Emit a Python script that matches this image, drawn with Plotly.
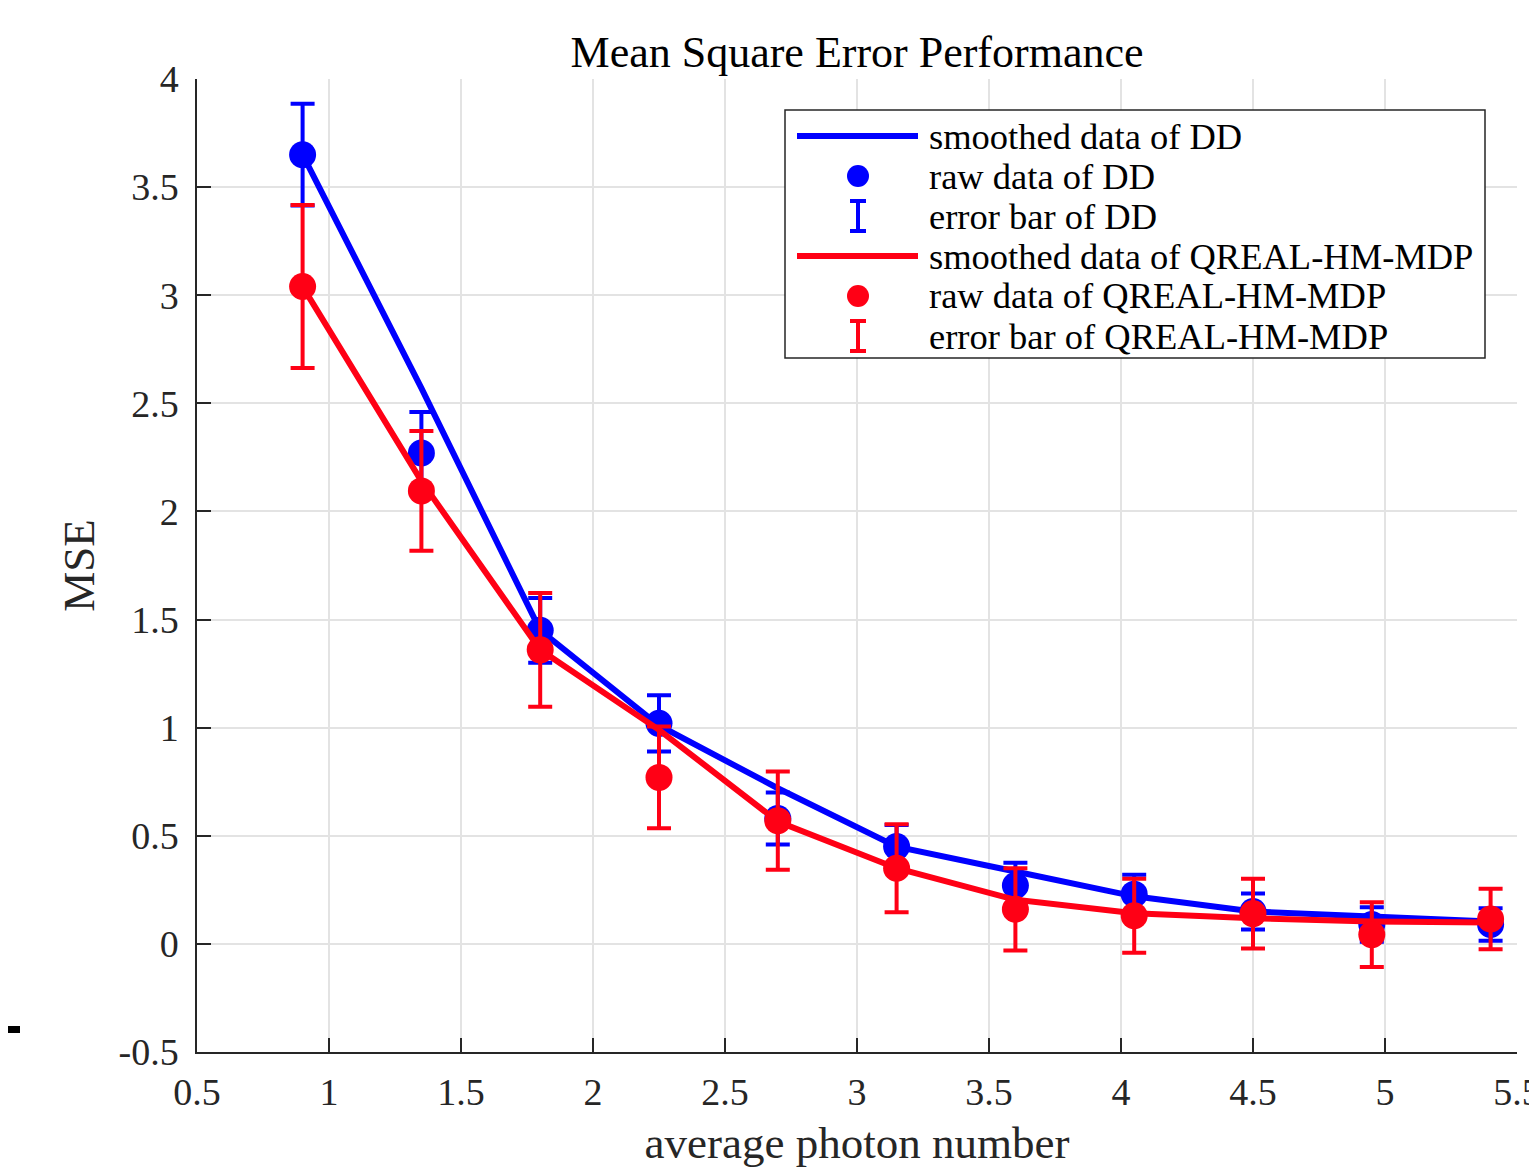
import plotly.graph_objects as go

# average photon number
photon = [0.9, 1.35, 1.8, 2.25, 2.7, 3.15, 3.6, 4.05, 4.5, 4.95, 5.4]

# DD
dd_raw = [3.65, 2.27, 1.45, 1.02, 0.58, 0.45, 0.27, 0.23, 0.15, 0.09, 0.09]
dd_err = [0.235, 0.19, 0.15, 0.13, 0.12, 0.10, 0.105, 0.09, 0.083, 0.08, 0.075]
dd_smooth = [3.65, 2.57, 1.45, 1.01, 0.72, 0.45, 0.335, 0.22, 0.15, 0.123, 0.103]

# QREAL-HM-MDP
qr_raw = [3.04, 2.095, 1.36, 0.77, 0.57, 0.35, 0.16, 0.13, 0.14, 0.043, 0.115]
qr_err = [0.377, 0.277, 0.263, 0.235, 0.227, 0.2035, 0.19, 0.171, 0.161, 0.15, 0.14]
qr_smooth = [3.04, 2.14, 1.36, 0.99, 0.566, 0.35, 0.204, 0.142, 0.119, 0.103, 0.099]

x_ticks = [0.5, 1, 1.5, 2, 2.5, 3, 3.5, 4, 4.5, 5, 5.5]
x_ticktext = ["0.5", "1", "1.5", "2", "2.5", "3", "3.5", "4", "4.5", "5", "5.5"]
y_ticks = [-0.5, 0, 0.5, 1, 1.5, 2, 2.5, 3, 3.5, 4]
y_ticktext = ["-0.5", "0", "0.5", "1", "1.5", "2", "2.5", "3", "3.5", "4"]

legend_labels = ["smoothed data of DD", "raw data of DD", "error bar of DD",
                 "smoothed data of QREAL-HM-MDP", "raw data of QREAL-HM-MDP",
                 "error bar of QREAL-HM-MDP"]

BLUE = "#0000ff"
RED = "#ff0015"
FONT = "Liberation Serif"
AXC = "#262626"

# the page body has an 8px margin, so the figure is drawn 8px smaller
OFF = 8
W, H = 1537 - OFF, 1171 - OFF
L, R, T, B = 197 - OFF, 20, 79 - OFF, 119
PW, PH = W - L - R, H - T - B


def px(xp):
    # window pixel x -> paper x
    return (xp - OFF - L) / PW


def py(yp):
    # window pixel y -> paper y
    return (H - B - (yp - OFF)) / PH


fig = go.Figure()
for smooth, raw, err, col in [(dd_smooth, dd_raw, dd_err, BLUE),
                              (qr_smooth, qr_raw, qr_err, RED)]:
    fig.add_trace(go.Scatter(x=photon, y=smooth, mode="lines",
                             line=dict(color=col, width=6), showlegend=False))
    fig.add_trace(go.Scatter(
        x=photon, y=raw, mode="markers",
        marker=dict(color=col, size=27),
        error_y=dict(type="data", array=err, color=col, thickness=4, width=12),
        showlegend=False))

# hand-built legend (matlab style)
shapes = []
annotations = []
shapes.append(dict(type="rect", xref="paper", yref="paper",
                   x0=px(785), x1=px(1485), y0=py(358), y1=py(110),
                   line=dict(color=AXC, width=1.5), fillcolor="white", layer="above"))
rows = [136, 176, 216, 256, 296, 336]
kinds = ["line", "dot", "bar", "line", "dot", "bar"]
cols = [BLUE, BLUE, BLUE, RED, RED, RED]
for lab, yy, kind, col in zip(legend_labels, rows, kinds, cols):
    if kind == "line":
        shapes.append(dict(type="line", xref="paper", yref="paper",
                           x0=px(797), x1=px(918), y0=py(yy), y1=py(yy),
                           line=dict(color=col, width=6), layer="above"))
    elif kind == "dot":
        shapes.append(dict(type="circle", xref="paper", yref="paper",
                           x0=px(847), x1=px(869), y0=py(yy + 11), y1=py(yy - 11),
                           line=dict(color=col, width=0), fillcolor=col, layer="above"))
    else:
        shapes.append(dict(type="line", xref="paper", yref="paper",
                           x0=px(858), x1=px(858), y0=py(yy + 15), y1=py(yy - 15),
                           line=dict(color=col, width=4), layer="above"))
        for dy in (-15, 15):
            shapes.append(dict(type="line", xref="paper", yref="paper",
                               x0=px(850), x1=px(866), y0=py(yy + dy), y1=py(yy + dy),
                               line=dict(color=col, width=4), layer="above"))
    annotations.append(dict(text=lab, xref="paper", yref="paper", x=px(927), y=py(yy),
                            xanchor="left", yanchor="middle", showarrow=False,
                            font=dict(family=FONT, size=36.5, color="black")))

# small dash at the left edge of the original picture
shapes.append(dict(type="rect", xref="paper", yref="paper",
                   x0=px(8), x1=px(20), y0=py(1033), y1=py(1026),
                   line=dict(width=0), fillcolor="black"))

fig.update_layout(
    width=W, height=H,
    margin=dict(l=L, r=R, t=T, b=B),
    plot_bgcolor="white", paper_bgcolor="white",
    font=dict(family=FONT, color=AXC),
    title=dict(text="Mean Square Error Performance", x=px(857), xref="paper",
               y=1 - (52 - OFF) / H, yref="container", xanchor="center",
               yanchor="middle",
               font=dict(family=FONT, size=44, color="black")),
    shapes=shapes, annotations=annotations,
    showlegend=False,
)
fig.update_xaxes(range=[0.5, 5.5], tickvals=x_ticks, ticktext=x_ticktext,
                 automargin=False,
                 showgrid=True, gridcolor="#e3e3e3", gridwidth=1.5,
                 showline=True, linecolor=AXC, linewidth=1.5, zeroline=False,
                 ticks="inside", ticklen=14, tickwidth=1.5, tickcolor=AXC,
                 ticklabelstandoff=6, ticklabeloverflow="allow",
                 tickfont=dict(family=FONT, size=38, color=AXC),
                 title=dict(text="average photon number", standoff=14,
                            font=dict(family=FONT, size=45, color=AXC)))
fig.update_yaxes(range=[-0.5, 4], tickvals=y_ticks, ticktext=y_ticktext,
                 automargin=False,
                 showgrid=True, gridcolor="#e3e3e3", gridwidth=1.5,
                 showline=True, linecolor=AXC, linewidth=1.5, zeroline=False,
                 ticks="inside", ticklen=14, tickwidth=1.5, tickcolor=AXC,
                 ticklabelstandoff=9, ticklabeloverflow="allow",
                 tickfont=dict(family=FONT, size=38, color=AXC),
                 title=dict(text="MSE", standoff=10,
                            font=dict(family=FONT, size=45, color=AXC)))

fig.write_html("out.html")
